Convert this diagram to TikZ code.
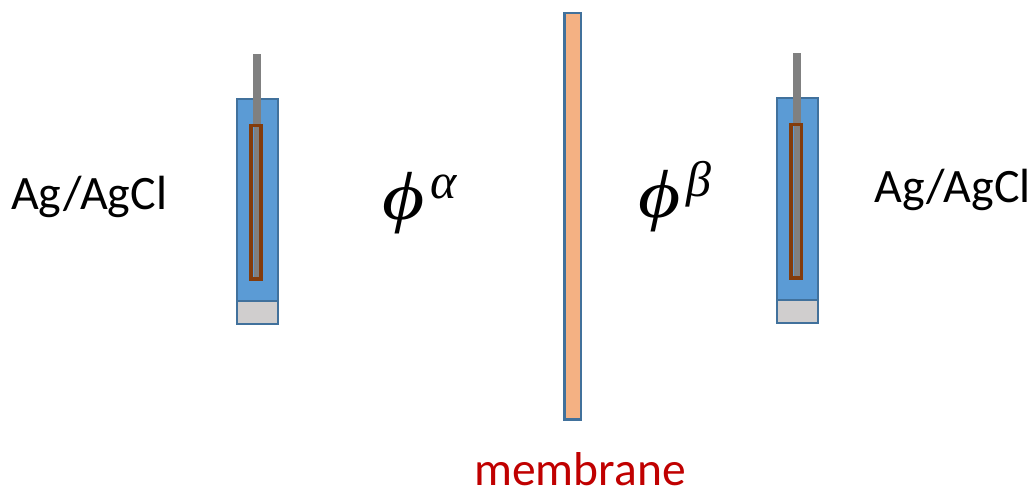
\documentclass[tikz,border=0pt]{standalone}
\usepackage{fontspec}
\setmainfont{Carlito}
\newfontfamily\symfont{Liberation Serif}
\definecolor{edgeblue}{RGB}{65,113,156}
\definecolor{fillblue}{RGB}{91,155,213}
\definecolor{capgrey}{RGB}{208,206,206}
\definecolor{wiregrey}{RGB}{128,128,128}
\definecolor{brownedge}{RGB}{131,60,12}
\definecolor{memfill}{RGB}{244,177,131}
\definecolor{memtext}{RGB}{192,0,0}
\newcommand{\suptxt}[1]{\hspace{6pt}\raisebox{21pt}{\fontsize{50}{50}\selectfont #1}}
\newcommand{\widephi}{\scalebox{1.2}[1]{ϕ}}
\tikzset{
  x=1pt,y=-1pt,
  boxed/.style={draw=edgeblue,line width=2.6pt},
  wire/.style={draw=none,fill=wiregrey},
  sleeve/.style={draw=brownedge,line width=3.4pt},
  label/.style={inner sep=0pt,anchor=base west,font=\fontsize{48}{48}\selectfont},
  sym/.style={inner sep=0pt,anchor=base west,font=\symfont\itshape\fontsize{68}{68}\selectfont},
}
\begin{document}
\begin{tikzpicture}
\useasboundingbox (0,0) rectangle (1032,489);
% left electrode
\path[boxed,fill=fillblue] (237,99) rectangle (278,301);
\path[boxed,fill=capgrey] (237,301) rectangle (278,324);
\path[wire] (253,54) rectangle (261,125);
\path[wire] (253.5,125) rectangle (260,279);
\path[sleeve] (251,125.5) rectangle (261,279);
% right electrode
\path[boxed,fill=fillblue] (777,98) rectangle (818,300);
\path[boxed,fill=capgrey] (777,300) rectangle (818,323);
\path[wire] (793,53) rectangle (801,124);
\path[wire] (793.5,124) rectangle (800,278);
\path[sleeve] (791,124.5) rectangle (801.5,278);
% membrane
\path[boxed,fill=memfill] (564.5,13) rectangle (581,419.5);
% texts
\node[label] (la) at (11,209) {Ag/AgCl};
\node[label] (lb) at (874.5,202) {Ag/AgCl};
\node[label,text=memtext,font=\fontsize{47.5}{48}\selectfont] (lm) at (474,485) {membrane};
\node[sym] (pa) at (382,219) {\widephi\suptxt{α}};
\node[sym] (pb) at (638,217) {\widephi\suptxt{β}};
\end{tikzpicture}
\end{document}
